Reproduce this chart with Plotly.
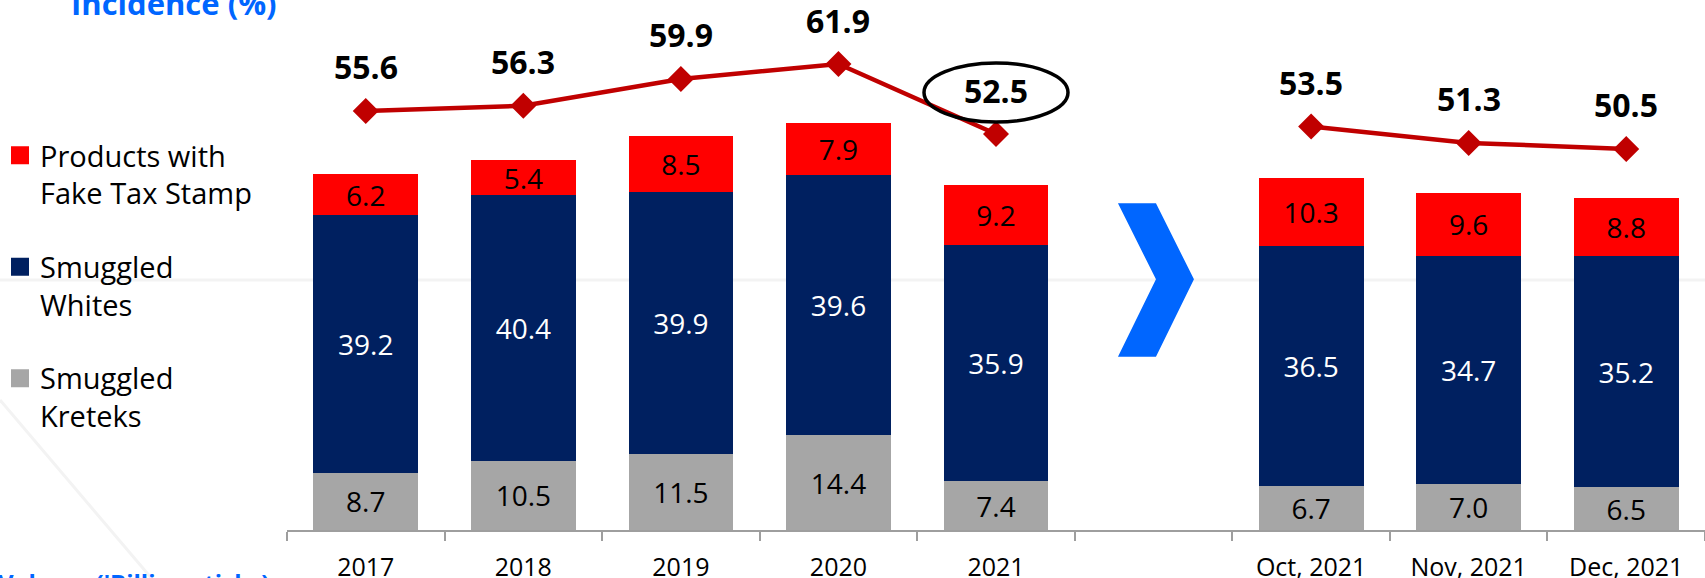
import plotly.graph_objects as go

categories = ["2017", "2018", "2019", "2020", "2021", " ", "Oct, 2021", "Nov, 2021", "Dec, 2021"]
kreteks = [8.7, 10.5, 11.5, 14.4, 7.4, None, 6.7, 7.0, 6.5]
whites = [39.2, 40.4, 39.9, 39.6, 35.9, None, 36.5, 34.7, 35.2]
fake_stamp = [6.2, 5.4, 8.5, 7.9, 9.2, None, 10.3, 9.6, 8.8]
incidence = [55.6, 56.3, 59.9, 61.9, 52.5, None, 53.5, 51.3, 50.5]
highlight_index = 4

FONT = "Open Sans"
RED = "#FF0000"
NAVY = "#002060"
GRAY = "#A6A6A6"
DARKRED = "#C00000"
BLUE = "#0066FF"

W, H = 1705, 578
ML, MB = 287, 48
PW, PH = W - ML, H - MB


def px_x(px):
    return (px - ML) / PW


def px_y(py):
    return 1 - py / PH


def fmt(vals):
    return ["" if v is None else f"{v:.1f}" for v in vals]


fig = go.Figure()

series = [
    ("Smuggled<br>Kreteks", kreteks, GRAY, "black", 3),
    ("Smuggled<br>Whites", whites, NAVY, "white", 2),
    ("Products with<br>Fake Tax Stamp", fake_stamp, RED, "black", 1),
]
for name, vals, col, tcol, rank in series:
    fig.add_trace(go.Bar(
        x=categories, y=vals, name=name, marker_color=col, marker_line_width=0,
        text=fmt(vals), textposition="inside", insidetextanchor="middle",
        textangle=0, constraintext="none",
        textfont=dict(color=tcol, size=28, family=FONT),
        showlegend=False, hoverinfo="skip", yaxis="y",
    ))
    fig.add_trace(go.Scatter(
        x=[None], y=[None], mode="markers", name=name, legendrank=rank,
        legendgroup=name,
        marker=dict(symbol="square", size=16, color=col, line=dict(color=col, width=2)),
        showlegend=True,
    ))

fig.add_trace(go.Scatter(
    x=categories, y=incidence, mode="lines+markers", yaxis="y2",
    line=dict(color=DARKRED, width=4.5), connectgaps=False,
    marker=dict(symbol="diamond", size=20, color=DARKRED),
    showlegend=False, hoverinfo="skip",
))

annotations = []
for i, v in enumerate(incidence):
    if v is None:
        continue
    annotations.append(dict(x=i, y=v, xref="x", yref="y2", yshift=44,
                            text=f"<b>{v:.1f}</b>", showarrow=False,
                            font=dict(size=32, color="black", family=FONT)))

annotations.append(dict(x=px_x(69), xref="paper", xanchor="left", y=px_y(26),
                        yref="paper", yanchor="bottom", showarrow=False,
                        text="<b>Incidence (%)</b>",
                        font=dict(size=31, color=BLUE, family=FONT)))
annotations.append(dict(x=px_x(-4), xref="paper", xanchor="left",
                        y=px_y(564), yref="paper", yanchor="top",
                        showarrow=False, text="<b>Volume ('Billion sticks)</b>",
                        font=dict(size=24, color=BLUE, family=FONT)))

shapes = [
    # faint background lines
    dict(type="line", xref="paper", yref="paper", x0=px_x(0), x1=1,
         y0=px_y(280), y1=px_y(280),
         line=dict(color="#F3F3F3", width=3), layer="below"),
    dict(type="line", xref="paper", yref="paper", x0=px_x(0), x1=px_x(170),
         y0=px_y(400), y1=px_y(600),
         line=dict(color="#F3F3F3", width=3), layer="below"),
    # chevron
    dict(type="path", xref="x", yref="y", xsizemode="pixel", ysizemode="pixel",
         xanchor=5, yanchor=0,
         path="M -35.6,326.7 L 2.4,326.7 L 40.4,250.7 L 2.4,173.3 L -35.6,173.3 L 2.4,250.7 Z",
         fillcolor=BLUE, line=dict(width=0)),
    # highlight ellipse
    dict(type="circle", xref="x", yref="y2", xsizemode="pixel", ysizemode="pixel",
         xanchor=highlight_index, yanchor=incidence[highlight_index],
         x0=-72, x1=72, y0=12, y1=71,
         line=dict(color="black", width=3.5), fillcolor="rgba(0,0,0,0)"),
]

fig.update_layout(
    width=W, height=H,
    margin=dict(l=ML, r=0, t=0, b=MB, pad=0, autoexpand=False),
    paper_bgcolor="white", plot_bgcolor="rgba(0,0,0,0)",
    barmode="stack", bargap=0.335,
    font=dict(family=FONT, color="black"),
    showlegend=True,
    legend=dict(x=px_x(0), xanchor="left", y=px_y(130), yanchor="top",
                font=dict(size=29, family=FONT, color="black"),
                traceorder="grouped", tracegroupgap=33, valign="top",
                itemwidth=30, bgcolor="rgba(0,0,0,0)"),
    xaxis=dict(type="category", categoryorder="array", categoryarray=categories,
               range=[-0.5, 8.5], showgrid=False, showline=True, automargin=False,
               linecolor="#9E9E9E", linewidth=1.5, ticks="outside",
               tickson="boundaries", ticklen=9, tickcolor="#9E9E9E", tickwidth=1.5,
               ticklabelstandoff=14,
               tickfont=dict(size=25, family=FONT, color="black"), fixedrange=True),
    yaxis=dict(range=[0, PH / 6.575], visible=False, showgrid=False, fixedrange=True,
               automargin=False),
    yaxis2=dict(range=[-(PH - 524.6) / 7.44, 524.6 / 7.44], overlaying="y",
                visible=False, showgrid=False, fixedrange=True, automargin=False),
    annotations=annotations,
    shapes=shapes,
)

fig.write_html("out.html")
